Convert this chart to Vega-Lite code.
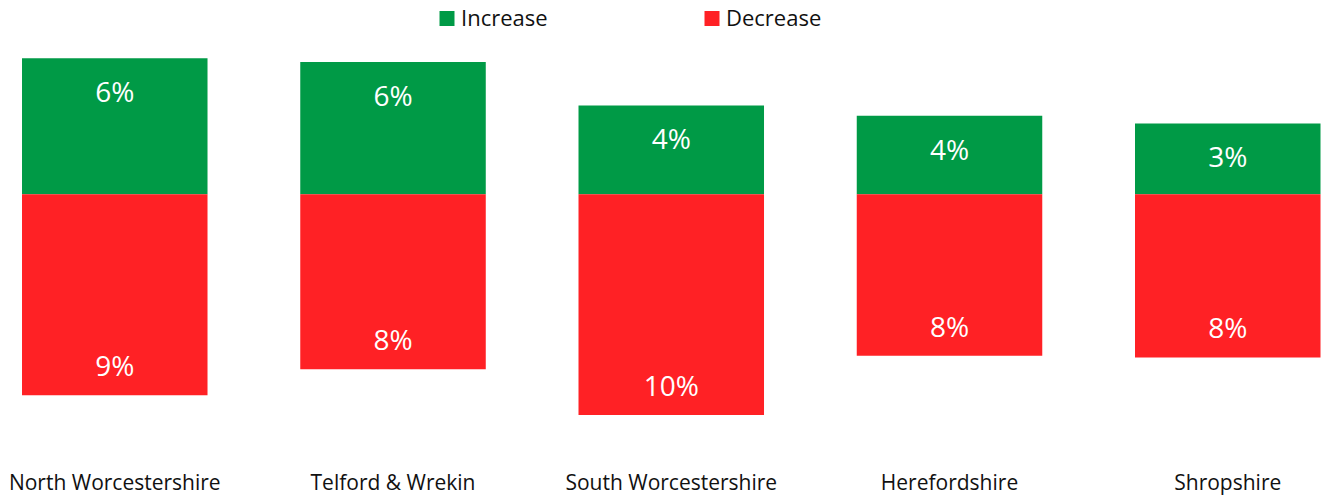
{
  "$schema": "https://vega.github.io/schema/vega-lite/v6.json",
  "width": 1332,
  "height": 413,
  "autosize": {"type": "none"},
  "padding": {"left": 0, "right": 0, "top": 35.5, "bottom": 48.5},
  "background": "white",
  "config": {"view": {"stroke": null}, "font": "Open Sans"},
  "data": {
    "values": [
      {"area": "North Worcestershire", "change": "Increase", "value": 0.0642},
      {"area": "North Worcestershire", "change": "Decrease", "value": -0.0948},
      {"area": "Telford & Wrekin", "change": "Increase", "value": 0.0625},
      {"area": "Telford & Wrekin", "change": "Decrease", "value": -0.0826},
      {"area": "South Worcestershire", "change": "Increase", "value": 0.042},
      {"area": "South Worcestershire", "change": "Decrease", "value": -0.1042},
      {"area": "Herefordshire", "change": "Increase", "value": 0.0371},
      {"area": "Herefordshire", "change": "Decrease", "value": -0.0762},
      {"area": "Shropshire", "change": "Increase", "value": 0.0335},
      {"area": "Shropshire", "change": "Decrease", "value": -0.077}
    ]
  },
  "encoding": {
    "x": {
      "field": "area",
      "type": "nominal",
      "sort": null,
      "scale": {"paddingInner": 0.3333, "paddingOuter": 0.0602, "align": 0.657},
      "axis": {
        "title": null,
        "domain": false,
        "ticks": false,
        "grid": false,
        "labelFontSize": 21,
        "labelFont": "Open Sans",
        "labelColor": "#111111",
        "labelPadding": 24,
        "labelAngle": 0,
        "labelLimit": 400
      }
    },
    "y": {
      "field": "value",
      "type": "quantitative",
      "scale": {"domain": [-0.12, 0.075], "nice": false, "zero": true},
      "axis": null
    }
  },
  "layer": [
    {
      "mark": {"type": "bar"},
      "encoding": {
        "color": {
          "field": "change",
          "type": "nominal",
          "scale": {"domain": ["Increase", "Decrease"], "range": ["#009A46", "#FF2125"]},
          "legend": {
            "orient": "none",
            "legendX": 436,
            "legendY": -28,
            "direction": "horizontal",
            "columns": 2,
            "title": null,
            "symbolType": "square",
            "symbolSize": 225,
            "symbolStrokeWidth": 0,
            "labelFontSize": 22,
            "labelFont": "Open Sans",
            "labelOffset": 3,
            "columnPadding": 153,
            "labelColor": "#111111",
            "padding": 0
          }
        }
      }
    },
    {
      "transform": [
        {"filter": "datum.value > 0"},
        {"calculate": "format(abs(datum.value), '.0%')", "as": "label"}
      ],
      "mark": {"type": "text", "dy": 36, "baseline": "middle", "fontSize": 28, "color": "white", "font": "Open Sans"},
      "encoding": {"text": {"field": "label", "type": "nominal"}}
    },
    {
      "transform": [
        {"filter": "datum.value < 0"},
        {"calculate": "format(abs(datum.value), '.0%')", "as": "label"}
      ],
      "mark": {"type": "text", "dy": -27, "baseline": "middle", "fontSize": 28, "color": "white", "font": "Open Sans"},
      "encoding": {"text": {"field": "label", "type": "nominal"}}
    }
  ]
}
